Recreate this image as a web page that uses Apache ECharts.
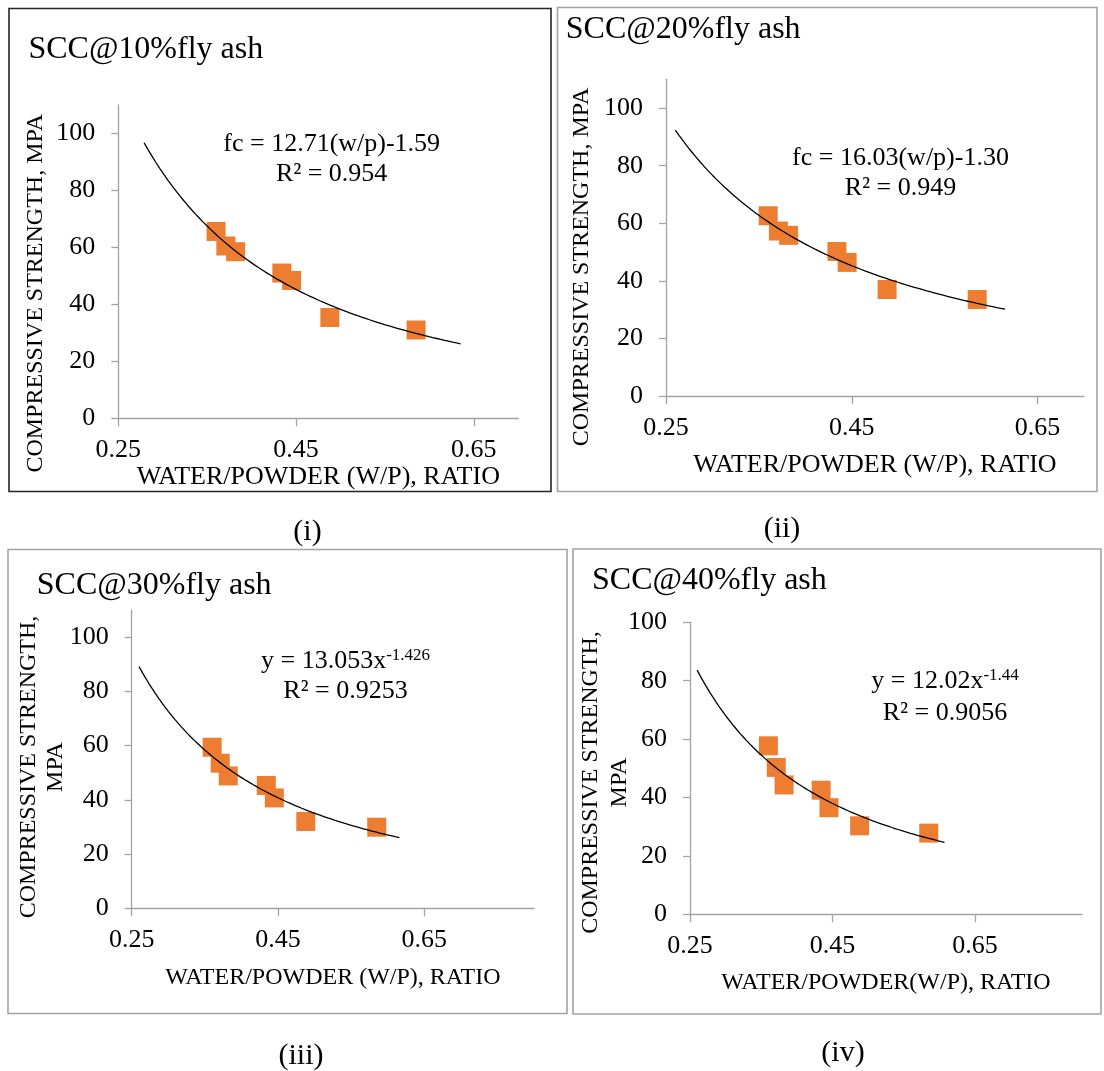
<!DOCTYPE html>
<html>
<head>
<meta charset="utf-8">
<script src="https://cdn.jsdelivr.net/npm/echarts@6/dist/echarts.min.js"></script>
<style>
  html, body { margin: 0; padding: 0; background: #ffffff; }
  #chart { width: 1104px; height: 1071px; }
</style>
</head>
<body>
<div id="chart"></div>
<script>
// Water/powder ratio of the seven mixes (shared by all four fly-ash levels)
const wpRatio = [0.36, 0.371, 0.382, 0.434, 0.445, 0.488, 0.585];

// Compressive strength (MPa) for each fly-ash replacement level
const strength10 = [65.6, 60.5, 58.5, 51.0, 48.4, 35.4, 31.0];
const strength20 = [62.6, 57.3, 55.8, 50.2, 46.4, 37.0, 33.5];
const strength30 = [59.4, 53.5, 48.8, 45.3, 40.7, 32.0, 29.9];
const strength40 = [57.7, 50.3, 44.3, 42.5, 36.5, 30.3, 27.8];

// Power-law fits fc = a * (w/p)^b and the w/p span each fitted curve covers
const fitCoef = [12.71, 16.03, 13.053, 12.02];
const fitExp = [-1.59, -1.30, -1.426, -1.44];
const fitSpan = [[0.279, 0.635], [0.26, 0.615], [0.26, 0.616], [0.26, 0.607]];

// Axis ticks
const xTicks = [0.25, 0.45, 0.65];
const yTicks = [0, 20, 40, 60, 80, 100];

// Texts
const panelTitles = ['SCC@10%fly ash', 'SCC@20%fly ash', 'SCC@30%fly ash', 'SCC@40%fly ash'];
const captions = ['(i)', '(ii)', '(iii)', '(iv)'];
const equations = ['fc = 12.71(w/p)-1.59', 'fc = 16.03(w/p)-1.30', 'y = 13.053x{sup|-1.426}', 'y = 12.02x{sup|-1.44}'];
const r2Labels = ['R² = 0.954', 'R² = 0.949', 'R² = 0.9253', 'R² = 0.9056'];
const xTitles = ['WATER/POWDER (W/P), RATIO', 'WATER/POWDER (W/P), RATIO', 'WATER/POWDER (W/P), RATIO', 'WATER/POWDER(W/P), RATIO'];
const yTitles = ['COMPRESSIVE STRENGTH, MPA', 'COMPRESSIVE STRENGTH, MPA', 'COMPRESSIVE STRENGTH,\nMPA', 'COMPRESSIVE STRENGTH,\nMPA'];
const strengths = [strength10, strength20, strength30, strength40];

// Page layout for the four panels
const FONT = '"Liberation Serif", "Times New Roman", serif';
const AXIS_GRAY = '#a3a3a3';
const MARK_ORANGE = '#ED7D31';

const layout = [
  { grid: { left: 118.3, top: 105, width: 400, height: 313.3 }, xMax: 0.7, yMax: 110, xNameGap: 42, xNameSize: 26,
    box: [9, 8.5, 542, 483, '#262626'], title: [28.4, 49.2], eq: [331.7, 144.5, 174.5], cap: [307.5, 532.5],
    yTitle: [35.5, 293.3], yTitleLH: 27 },
  { grid: { left: 666, top: 79.3, width: 418, height: 316.7 }, xMax: 0.7, yMax: 110, xNameGap: 56, xNameSize: 26,
    box: [557.5, 7.5, 539.5, 484, AXIS_GRAY], title: [565.8, 29.9], eq: [900.5, 158.5, 187.9], cap: [782, 529.5],
    yTitle: [582, 267], yTitleLH: 27 },
  { grid: { left: 131.7, top: 610, width: 402.3, height: 298.3 }, xMax: 0.8, yMax: 110, xNameGap: 57, xNameSize: 24,
    box: [8, 549.5, 559, 464, AXIS_GRAY], title: [36.8, 585.9], eq: [345.5, 661.2, 691.2], cap: [301, 1056],
    yTitle: [42, 767], yTitleLH: 27 },
  { grid: { left: 690, top: 622.3, width: 392, height: 292 }, xMax: 0.8, yMax: 100, xNameGap: 56, xNameSize: 24,
    box: [573, 549, 528, 465, AXIS_GRAY], title: [592, 580.9], eq: [945, 681.2, 712.9], cap: [843, 1053],
    yTitle: [605.3, 782.5], yTitleLH: 28.5 }
];

function fitCurve(i) {
  const [x0, x1] = fitSpan[i];
  const n = 80;
  const pts = [];
  for (let k = 0; k <= n; k++) {
    const x = x0 + (x1 - x0) * k / n;
    pts.push([x, fitCoef[i] * Math.pow(x, fitExp[i])]);
  }
  return pts;
}

const grids = [], xAxes = [], yAxes = [], series = [], graphics = [];

layout.forEach((p, i) => {
  grids.push(Object.assign({ outerBoundsMode: 'none', containLabel: false }, p.grid));

  xAxes.push({
    gridIndex: i, type: 'value', min: 0.25, max: p.xMax,
    axisLine: { show: true, onZero: false, lineStyle: { color: AXIS_GRAY, width: 1.3 } },
    axisTick: { show: true, length: 8, customValues: xTicks, lineStyle: { color: AXIS_GRAY, width: 1.3 } },
    axisLabel: { customValues: xTicks, formatter: v => v.toFixed(2), margin: 19,
      fontFamily: FONT, fontSize: 26, color: '#000' },
    splitLine: { show: false },
    name: xTitles[i], nameLocation: 'middle', nameGap: p.xNameGap,
    nameTextStyle: { fontFamily: FONT, fontSize: p.xNameSize, color: '#000' }
  });

  yAxes.push({
    gridIndex: i, type: 'value', min: 0, max: p.yMax,
    axisLine: { show: true, lineStyle: { color: AXIS_GRAY, width: 1.3 } },
    axisTick: { show: true, length: 7, customValues: yTicks, lineStyle: { color: AXIS_GRAY, width: 1.3 } },
    axisLabel: { customValues: yTicks, margin: 23, fontFamily: FONT, fontSize: 26, color: '#000' },
    splitLine: { show: false }
  });

  series.push({
    type: 'scatter', xAxisIndex: i, yAxisIndex: i,
    symbol: 'rect', symbolSize: 19,
    itemStyle: { color: MARK_ORANGE, opacity: 1 },
    data: wpRatio.map((x, k) => [x, strengths[i][k]]),
    z: 2, silent: true
  });

  series.push({
    type: 'line', xAxisIndex: i, yAxisIndex: i,
    data: fitCurve(i), showSymbol: false, smooth: false,
    lineStyle: { color: '#000', width: 1.3 },
    z: 3, silent: true
  });

  // panel frame
  graphics.push({
    type: 'rect', shape: { x: p.box[0], y: p.box[1], width: p.box[2], height: p.box[3] },
    style: { fill: 'none', stroke: p.box[4], lineWidth: 1.6 }, z: -1, silent: true
  });

  // panel title
  graphics.push({
    type: 'text', x: p.title[0], y: p.title[1], silent: true,
    style: { text: panelTitles[i], fontFamily: FONT, fontSize: 32, fill: '#000', align: 'left', verticalAlign: 'middle' }
  });

  // fit equation and R²
  graphics.push({
    type: 'text', x: p.eq[0], y: p.eq[1], silent: true,
    style: { text: equations[i], fontFamily: FONT, fontSize: 26, fill: '#000', align: 'center', verticalAlign: 'middle',
      rich: { sup: { fontFamily: FONT, fontSize: 17, fill: '#000', padding: [0, 0, 11, 0] } } }
  });
  graphics.push({
    type: 'text', x: p.eq[0], y: p.eq[2], silent: true,
    style: { text: r2Labels[i], fontFamily: FONT, fontSize: 26, fill: '#000', align: 'center', verticalAlign: 'middle' }
  });

  // vertical axis title
  graphics.push({
    type: 'text', x: p.yTitle[0], y: p.yTitle[1], rotation: Math.PI / 2, silent: true,
    style: { text: yTitles[i], fontFamily: FONT, fontSize: 24, lineHeight: p.yTitleLH, fill: '#000',
      align: 'center', verticalAlign: 'middle' }
  });

  // caption under the panel
  graphics.push({
    type: 'text', x: p.cap[0], y: p.cap[1], silent: true,
    style: { text: captions[i], fontFamily: FONT, fontSize: 30, fill: '#000', align: 'center', verticalAlign: 'middle' }
  });
});

const chart = echarts.init(document.getElementById('chart'), null, { renderer: 'canvas' });
chart.setOption({
  backgroundColor: '#ffffff',
  animation: false,
  grid: grids,
  xAxis: xAxes,
  yAxis: yAxes,
  series: series,
  graphic: { elements: graphics }
});
</script>
</body>
</html>
